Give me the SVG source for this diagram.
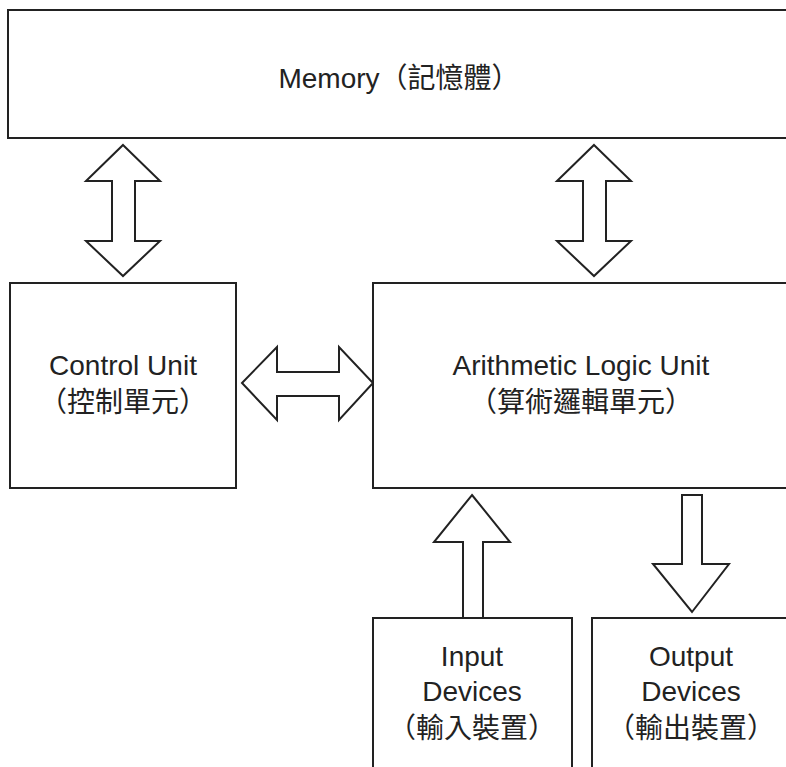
<svg xmlns="http://www.w3.org/2000/svg" width="786" height="767" viewBox="0 0 786 767">
<style>
.box{fill:#fff;stroke:#222;stroke-width:2}
.arr{fill:#fff;stroke:#222;stroke-width:2;stroke-linejoin:miter}
.t{font-family:"Liberation Sans","Noto Sans CJK TC",sans-serif;font-size:28px;fill:#222;text-anchor:middle}
</style>
<rect width="786" height="767" fill="#fff"/>
<g id="connectors">
<polygon class="arr" points="123,145 160,181 135,181 135,241 160,241 123,276 86,241 112,241 112,181 86,181"/>
<polygon class="arr" points="594,145 631,181 606,181 606,241 631,241 594,276 557,241 583,241 583,181 557,181"/>
<polygon class="arr" points="242,383 277,347 277,372 339,372 339,347 373,383 339,420 339,396 277,396 277,420"/>
<polygon class="arr" points="472,495 510,542 483,542 483,618 463,618 463,542 434,542"/>
<polygon class="arr" points="682,495 702,495 702,564 729,564 692,612 653,564 682,564"/>
</g>
<g id="memory">
<rect class="box" x="8" y="10" width="800" height="128"/>
<text class="t" x="399" y="88">Memory（記憶體）</text>
</g>
<g id="control-unit">
<rect class="box" x="10" y="283" width="226" height="205"/>
<text class="t" x="123" y="375">Control Unit</text>
<text class="t" x="123" y="412">（控制單元）</text>
</g>
<g id="alu">
<rect class="box" x="373" y="283" width="430" height="205"/>
<text class="t" x="581" y="375">Arithmetic Logic Unit</text>
<text class="t" x="581" y="412">（算術邏輯單元）</text>
</g>
<g id="input-devices">
<rect class="box" x="373" y="618" width="199" height="160"/>
<text class="t" x="472" y="666">Input</text>
<text class="t" x="472" y="701">Devices</text>
<text class="t" x="472" y="738">（輸入裝置）</text>
</g>
<g id="output-devices">
<rect class="box" x="592" y="618" width="210" height="160"/>
<text class="t" x="691" y="666">Output</text>
<text class="t" x="691" y="701">Devices</text>
<text class="t" x="691" y="738">（輸出裝置）</text>
</g>
</svg>
